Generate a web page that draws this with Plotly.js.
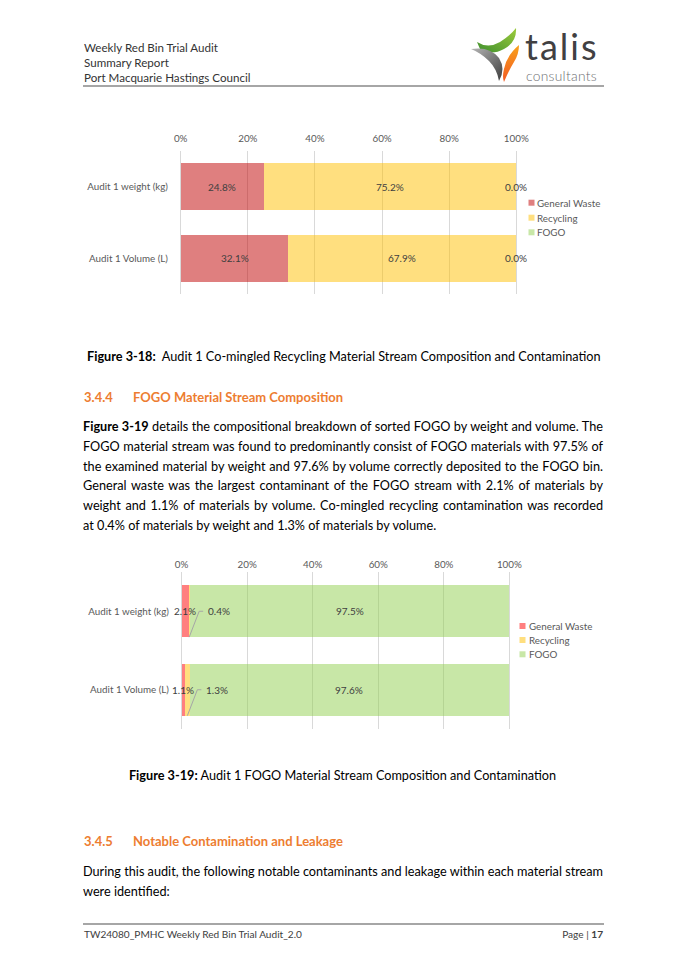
<!DOCTYPE html>
<html>
<head>
<meta charset="utf-8">
<script src="https://cdn.plot.ly/plotly-3.0.1.min.js"></script>
<style>
  html, body { margin: 0; padding: 0; background: #fff; }
  body { width: 685px; height: 970px; position: relative; overflow: hidden; font-family: Lato, "Open Sans", sans-serif; color: #000; }
  .abs { position: absolute; }
  .hdr { left: 84px; top: 39.5px; font-size: 11.6px; line-height: 15px; color: #333; }
  .rule { left: 83px; width: 521px; height: 2px; background: #A6A6A6; }
  .cap { font-size: 12.7px; line-height: 20px; white-space: nowrap; color: #000; }
  .h { left: 84px; font-size: 13px; line-height: 20px; font-weight: bold; color: #ED7D31; white-space: nowrap; }
  .h .t { position: absolute; left: 49px; }
  .para { left: 83px; width: 520px; font-size: 12.7px; line-height: 19.8px; color: #000; }
  .jl, .ll { white-space: nowrap; height: 19.8px; }
  .foot { left: 84px; width: 519px; top: 927px; font-size: 10.1px; line-height: 14px; color: #404040; }
  .chart { position: absolute; left: 0; width: 685px; }
  .logo1 { left: 525px; top: 30.6px; font-size: 36px; line-height: 30px; letter-spacing: 2px; color: #414042; white-space: nowrap; }
  .logo2 { left: 526px; top: 69.7px; font-size: 13.8px; line-height: 12px; letter-spacing: 0.3px; font-weight: 300; color: #6D6E71; white-space: nowrap; }
</style>
</head>
<body>

<div class="abs hdr">Weekly Red Bin Trial Audit<br>Summary Report<br>Port Macquarie Hastings Council</div>

<svg class="abs" style="left:460px;top:25px" width="64" height="62" viewBox="0 0 64 62">
  <defs>
    <linearGradient id="gGreen" x1="0" y1="1" x2="1" y2="0">
      <stop offset="0" stop-color="#3F8F2F"/><stop offset="1" stop-color="#9CCB3B"/>
    </linearGradient>
    <linearGradient id="gGray" x1="0" y1="0" x2="1" y2="1">
      <stop offset="0" stop-color="#B5B5B5"/><stop offset="1" stop-color="#3E3E3E"/>
    </linearGradient>
    <linearGradient id="gOrange" x1="0" y1="0" x2="0" y2="1">
      <stop offset="0" stop-color="#F9A11B"/><stop offset="1" stop-color="#F15A24"/>
    </linearGradient>
  </defs>
  <path d="M17,17 Q28,24 40,17 Q50,11 56,3 Q57,17 44,24 Q31,31 20,24 Z" fill="url(#gGreen)"/>
  <path d="M11,24 Q30,21 39,33 Q46,44 39,56 Q37,44 29,36 Q21,28 11,24 Z" fill="url(#gGray)"/>
  <path d="M59,20 Q47,30 44,44 Q42,52 44,57 Q49,45 54,37 Q59,29 59,20 Z" fill="url(#gOrange)"/>
</svg>
<div class="abs logo1">talis</div>
<div class="abs logo2">consultants</div>
<div class="abs rule" style="top:85px"></div>

<div id="chart1" class="chart" style="top:120px;height:185px"></div>

<div class="abs cap" style="left:87px;top:346px"><b>Figure 3-18:</b>&nbsp; Audit 1 Co-mingled Recycling Material Stream Composition and Contamination</div>

<div class="abs h" style="top:387px">3.4.4<span class="t">FOGO Material Stream Composition</span></div>

<div class="abs para" style="top:417px">
  <div class="jl"><span><b>Figure 3-19</b> details the compositional breakdown of sorted FOGO by weight and volume. The</span></div>
  <div class="jl"><span>FOGO material stream was found to predominantly consist of FOGO materials with 97.5% of</span></div>
  <div class="jl"><span>the examined material by weight and 97.6% by volume correctly deposited to the FOGO bin.</span></div>
  <div class="jl"><span>General waste was the largest contaminant of the FOGO stream with 2.1% of materials by</span></div>
  <div class="jl"><span>weight and 1.1% of materials by volume. Co-mingled recycling contamination was recorded</span></div>
  <div class="ll"><span>at 0.4% of materials by weight and 1.3% of materials by volume.</span></div>
</div>

<div id="chart2" class="chart" style="top:545px;height:190px"></div>

<div class="abs cap" style="left:0;width:685px;text-align:center;top:765px"><b>Figure 3-19:</b> Audit 1 FOGO Material Stream Composition and Contamination</div>

<div class="abs h" style="top:831px">3.4.5<span class="t">Notable Contamination and Leakage</span></div>

<div class="abs para" style="top:862px">
  <div class="jl"><span>During this audit, the following notable contaminants and leakage within each material stream</span></div>
  <div class="ll"><span>were identified:</span></div>
</div>

<div class="abs rule" style="top:923px"></div>
<div class="abs foot"><span>TW24080_PMHC Weekly Red Bin Trial Audit_2.0</span><span style="position:absolute;right:0">Page | <b>17</b></span></div>

<script>
// ---------------- data ----------------
const categories = ['Audit 1 weight (kg)', 'Audit 1 Volume (L)'];
const seriesNames = ['General Waste', 'Recycling', 'FOGO'];

// Figure 3-18: Co-mingled recycling stream (%)
const recyclingStreamGeneralWaste = [24.8, 32.1];
const recyclingStreamRecycling   = [75.2, 67.9];
const recyclingStreamFogo        = [0.0, 0.0];

// Figure 3-19: FOGO stream (%)
const fogoStreamGeneralWaste = [2.1, 1.1];
const fogoStreamRecycling    = [0.4, 1.3];
const fogoStreamFogo         = [97.5, 97.6];

const xTickVals = [0, 20, 40, 60, 80, 100];
const xTickText = ['0%', '20%', '40%', '60%', '80%', '100%'];

// ---------------- chart builder ----------------
const axisFont = { family: 'Lato, sans-serif', size: 9.8, color: '#595959' };
const labelFont = { family: 'Lato, sans-serif', size: 10, color: '#404040' };
const legendFont = { family: 'Lato, sans-serif', size: 9.8, color: '#595959' };
const X_MIN = -0.5, X_MAX = 100.5;   // small pad so the 0% and 100% gridlines are drawn

function buildChart(divId, cfg) {
  const W = 685, H = cfg.height, m = cfg.margin;
  const pw = W - m.l - m.r, ph = H - m.t - m.b;
  const px2x = p => (p - m.l) / pw;
  const py2y = p => 1 - (p - cfg.top - m.t) / ph;
  const pxDist = d => d * (X_MAX - X_MIN) / pw;

  const traces = seriesNames.map((name, s) => ({
    type: 'bar', orientation: 'h', name: name,
    y: categories, x: cfg.values[s],
    width: cfg.barWidth,
    marker: { color: cfg.colors[s], opacity: 0.5, line: { width: 0 } },
    hoverinfo: 'skip', showlegend: false
  }));

  const annotations = [], shapes = [];
  categories.forEach((cat, i) => {
    let start = 0;
    seriesNames.forEach((name, s) => {
      const v = cfg.values[s][i];
      const mid = start + v / 2;
      const lead = cfg.leader && cfg.leader.series === s;
      annotations.push({
        x: mid, y: i, xref: 'x', yref: 'y', text: v.toFixed(1) + '%',
        showarrow: false, font: labelFont, xshift: lead ? cfg.leader.dx : 0
      });
      if (lead) {
        shapes.push({
          type: 'path', xref: 'x', yref: 'y', layer: 'above',
          path: 'M' + mid + ',' + (i + cfg.barWidth / 2) +
                ' L' + (mid + pxDist(10)) + ',' + i +
                ' L' + (mid + pxDist(14)) + ',' + i,
          line: { color: '#A6A6A6', width: 1 }
        });
      }
      start += v;
    });
  });

  seriesNames.forEach((name, s) => {
    const cy = cfg.legend.rows[s];
    shapes.push({
      type: 'rect', xref: 'paper', yref: 'paper',
      x0: px2x(cfg.legend.sq), x1: px2x(cfg.legend.sq + 6),
      y0: py2y(cy + 3), y1: py2y(cy - 3),
      fillcolor: cfg.colors[s], opacity: 0.5, line: { width: 0 }
    });
    annotations.push({
      xref: 'paper', yref: 'paper', x: px2x(cfg.legend.text), y: py2y(cy),
      xanchor: 'left', yanchor: 'middle', text: name, showarrow: false,
      font: legendFont, borderpad: 0
    });
  });

  const layout = {
    width: W, height: H,
    margin: m,
    paper_bgcolor: 'rgba(0,0,0,0)', plot_bgcolor: 'rgba(0,0,0,0)',
    barmode: 'stack', showlegend: false,
    xaxis: {
      range: [X_MIN, X_MAX], side: 'top', tickmode: 'array', tickvals: xTickVals, ticktext: xTickText,
      showgrid: true, gridcolor: '#D9D9D9', gridwidth: 1, zeroline: false, showline: false,
      ticks: '', ticklabelstandoff: cfg.xStandoff, tickfont: axisFont, fixedrange: true
    },
    yaxis: {
      type: 'category', range: [1.5, -0.5], showgrid: false, zeroline: false, showline: false,
      ticks: '', ticklabelstandoff: cfg.yStandoff, tickfont: axisFont, fixedrange: true
    },
    annotations: annotations, shapes: shapes,
    font: { family: 'Lato, sans-serif' }
  };
  return Plotly.newPlot(divId, traces, layout, { staticPlot: true, displayModeBar: false });
}

buildChart('chart1', {
  top: 120, height: 185,
  margin: { l: 179, r: 167, t: 31, b: 11, pad: 0 },
  values: [recyclingStreamGeneralWaste, recyclingStreamRecycling, recyclingStreamFogo],
  colors: ['#C00000', '#FFC000', '#92D050'],
  barWidth: 0.66, xStandoff: 6, yStandoff: 10,
  legend: { sq: 528.5, text: 536, rows: [202.7, 217.7, 232.3] }
});

buildChart('chart2', {
  top: 545, height: 190,
  margin: { l: 180, r: 174, t: 27, b: 6, pad: 0 },
  values: [fogoStreamGeneralWaste, fogoStreamRecycling, fogoStreamFogo],
  colors: ['#FF0000', '#FFC000', '#92D050'],
  barWidth: 0.66, xStandoff: 1, yStandoff: 10,
  leader: { series: 1, dx: 30 },
  legend: { sq: 519.5, text: 527.5, rows: [626, 640, 654.3] }
});

// justify text lines exactly to the column width
function justify() {
  document.querySelectorAll('.jl > span').forEach(sp => {
    sp.style.wordSpacing = '0px';
    const w = sp.getBoundingClientRect().width;
    const n = (sp.textContent.match(/ /g) || []).length;
    if (n > 0) sp.style.wordSpacing = ((520 - w) / n) + 'px';
  });
}
justify();
if (document.fonts && document.fonts.ready) document.fonts.ready.then(justify);
</script>
</body>
</html>
